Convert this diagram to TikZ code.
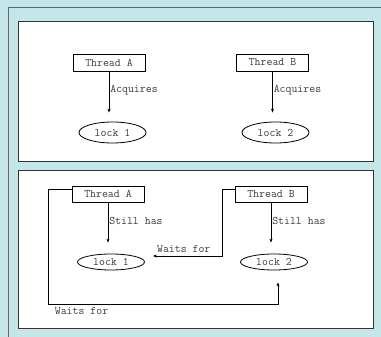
\documentclass[tikz,border=0pt]{standalone}
\usetikzlibrary{shapes.geometric,arrows.meta,positioning}
\definecolor{panelbg}{RGB}{197,230,232}
\definecolor{framegray}{RGB}{95,105,105}
\definecolor{labelgray}{RGB}{60,60,60}
\tikzset{
  panel/.style={draw=black!80,line width=1pt,fill=white},
  threadbox/.style={draw,line width=0.8pt,minimum width=72pt,minimum height=17pt,inner sep=0pt,
    font=\ttfamily\fontsize{11.5}{13}\selectfont,text=labelgray},
  lockell/.style={ellipse,draw,line width=0.8pt,minimum width=67pt,minimum height=21pt,inner sep=0pt,
    font=\ttfamily\fontsize{11.5}{13}\selectfont,text=labelgray},
  link/.style={-{Stealth[length=4pt,width=3pt]},line width=0.6pt},
  lbl/.style={anchor=west,inner sep=1pt,font=\ttfamily\fontsize{11.5}{13}\selectfont,text=labelgray}
}
\begin{document}
\begin{tikzpicture}[x=1pt,y=-1pt]
        %% background
        \useasboundingbox (0,0) rectangle (381,337);
        \fill[panelbg] (0,0) rectangle (381,337);
        \draw[framegray,line width=1pt] (8,337) -- (8,8) -- (381,8);
        %% Top panel: each thread takes its lock
        \draw[panel] (18,22) rectangle (373,162);
        \node[threadbox] (ta) at (109,62.5) {Thread A};
        \node[threadbox] (tb) at (272.5,62.5) {Thread B};
        \node[lockell] (la) at (112.5,132.5) {lock 1};
        \node[lockell] (lb) at (275.5,132.5) {lock 2};
        \draw[link,shorten >=9pt] (ta.south) -- (ta.south |- la.north) node[lbl,pos=0.38] {Acquires};
        \draw[link,shorten >=9pt] (tb.south) -- (tb.south |- lb.north) node[lbl,pos=0.38] {Acquires};
        %% Bottom panel: deadlock
        \draw[panel] (18,171) rectangle (373,328);
        \node[threadbox,minimum height=16pt] (ta2) at (108,194) {Thread A};
        \node[threadbox,minimum height=16pt] (tb2) at (271,194) {Thread B};
        \node[lockell,minimum height=16pt] (la2) at (111,262) {lock 1};
        \node[lockell,minimum height=16pt] (lb2) at (274,262) {lock 2};
        \draw[link,shorten >=11pt] (ta2.south) -- (ta2.south |- la2.north) node[lbl,pos=0.37] {Still has};
        \draw[link,shorten >=11pt] (tb2.south) -- (tb2.south |- lb2.north) node[lbl,pos=0.37] {Still has};
        \draw[link,shorten >=8pt] ([yshift=5pt]tb2.west) -- ++(-12,0) |- ([yshift=6pt]la2.east)
            node[lbl,anchor=south,pos=0.75,yshift=2pt] {Waits for};
        \draw[link,shorten >=12pt] ([yshift=5pt]ta2.west) -- ++(-23,0) -- ++(0,115)
            node[lbl,anchor=north west,xshift=5pt,yshift=-2pt] {Waits for} -| ([xshift=4pt]lb2.south);
    \end{tikzpicture}
\end{document}
